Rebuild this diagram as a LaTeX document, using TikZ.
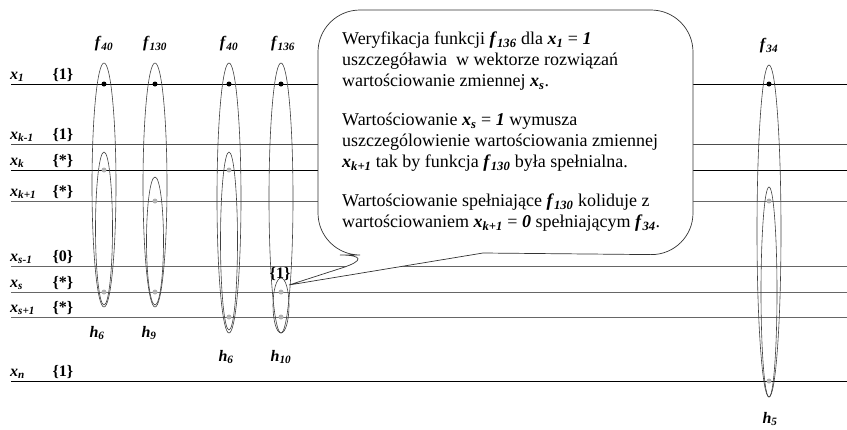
\documentclass[tikz,border=0pt]{standalone}
\usepackage{fontspec}
\setmainfont{Liberation Serif}
\usetikzlibrary{shapes.geometric}
\newcommand{\bv}[2]{\textbf{\textit{#1}}\textsubscript{\textbf{\textit{#2}}}}
\newcommand{\bn}[1]{\textbf{\textit{#1}}}

\begin{document}
\begin{tikzpicture}[
    x=1pt, y=-1pt,
    font=\fontsize{14}{16}\selectfont,
    row/.style={line width=0.7pt},
    grp/.style={draw=black!75, line width=0.6pt, ellipse, inner sep=0pt},
    hit/.style={circle, fill=black, inner sep=0pt, minimum size=5pt},
    fix/.style={circle, fill=gray!60, inner sep=0pt, minimum size=5pt},
    lbl/.style={inner sep=1pt, font=\fontsize{16}{18}\selectfont},
    val/.style={inner sep=1pt, font=\fontsize{16}{18}\selectfont\bfseries},
    bubble/.style={draw=black!80, fill=white, line width=0.7pt, rounded corners=42},
]
\useasboundingbox (0,0) rectangle (847,429);

% ---- Variable rows -------------------------------------------------
\foreach \n/\y/\col/\sub/\v in {
    1/84/black/1/\{1\},
    2/144/black!70/k-1/\{1\},
    3/170/black/k/\{*\},
    4/201/black!60/k+1/\{*\},
    5/266/black!60/s-1/\{0\},
    6/292/black!60/s/\{*\},
    7/317/black!60/s+1/\{*\},
    8/381/black/n/\{1\}}{
    \coordinate (L\n) at (11,\y);
    \coordinate (R\n) at (847,\y);
    \draw[row, draw=\col] (L\n) -- (R\n);
    \node[lbl, anchor=base west] (xl\n) at (9,\y-5) {\bv{x}{\sub}};
    \node[val, anchor=base] (xv\n) at (63,\y-5) {\v};
}

% ---- Function groups -----------------------------------------------
\node[grp, minimum width=24, minimum height=244] (g1) at (104,185) {};
\node[grp, minimum width=17, minimum height=153] (g1i) at (104,228.5) {};
\node[grp, minimum width=24, minimum height=244] (g2) at (155,185) {};
\node[grp, minimum width=17, minimum height=128] (g2i) at (155,241) {};
\node[grp, minimum width=24, minimum height=270] (g3) at (229,198) {};
\node[grp, minimum width=17, minimum height=178] (g3i) at (229,241) {};
\node[grp, minimum width=24, minimum height=270] (g4) at (281,198) {};
\node[grp, minimum width=16, minimum height=55]  (g4i) at (281,305.5) {};
\node[grp, minimum width=24, minimum height=332] (g5) at (769,231) {};
\node[grp, minimum width=16, minimum height=210] (g5i) at (769,292) {};

% ---- Literals ------------------------------------------------------
\foreach \x [count=\i] in {104,155,229,281,769}
    \node[hit] (h\i) at (\x,84) {};
\node[fix] (p1a) at (104,170) {};
\node[fix] (p1b) at (104,292) {};
\node[fix] (p2a) at (155,201) {};
\node[fix] (p2b) at (155,292) {};
\node[fix] (p3a) at (229,170) {};
\node[fix] (p3b) at (229,317) {};
\node[fix] (p4a) at (281,292) {};
\node[fix] (p4b) at (281,317) {};
\node[fix] (p5a) at (769,201) {};
\node[fix] (p5b) at (769,381) {};

% ---- Function and clause names -------------------------------------
\node[lbl] (f1) at (104,44) {\bv{f}{40}};
\node[lbl] (f2) at (155,44) {\bv{f}{130}};
\node[lbl] (f3) at (229,44) {\bv{f}{40}};
\node[lbl] (f4) at (283,44) {\bv{f}{136}};
\node[lbl] (f5) at (769,46) {\bv{f}{34}};
\node[lbl] (c1) at (97,333) {\bv{h}{6}};
\node[lbl] (c2) at (149,333) {\bv{h}{9}};
\node[lbl] (c3) at (226,357) {\bv{h}{6}};
\node[lbl] (c4) at (281,357) {\bv{h}{10}};
\node[lbl] (c5) at (770,419) {\bv{h}{5}};
\node[val] (mark) at (280,274) {\{1\}};

% ---- Callout -------------------------------------------------------
\coordinate (tip) at (289,285);
\draw[bubble] (505,10) -- (318,10) -- (318,255) -- (382,255)
    [sharp corners] -- (tip) -- (483,253)
    [rounded corners=42] -- (693,255) -- (693,10) -- cycle;
\node[anchor=north west, align=left, inner sep=0pt,
      font=\fontsize{18}{21}\selectfont] (note) at (342,32) {%
    Weryfikacja funkcji \bv{f}{136} dla \bv{x}{1} = \bn{1}\\
    uszczegóławia\ \ w wektorze rozwiązań\\
    wartościowanie zmiennej \bv{x}{s}.\\[18pt]
    Wartościowanie \bv{x}{s} = \bn{1} wymusza\\
    uszczególowienie wartościowania zmiennej\\
    \bv{x}{k+1} tak by funkcja \bv{f}{130} była spełnialna.\\[18pt]
    Wartościowanie spełniające \bv{f}{130} koliduje z\\
    wartościowaniem \bv{x}{k+1} = \bn{0} spełniającym \bv{f}{34}.};

\end{tikzpicture}
\end{document}
